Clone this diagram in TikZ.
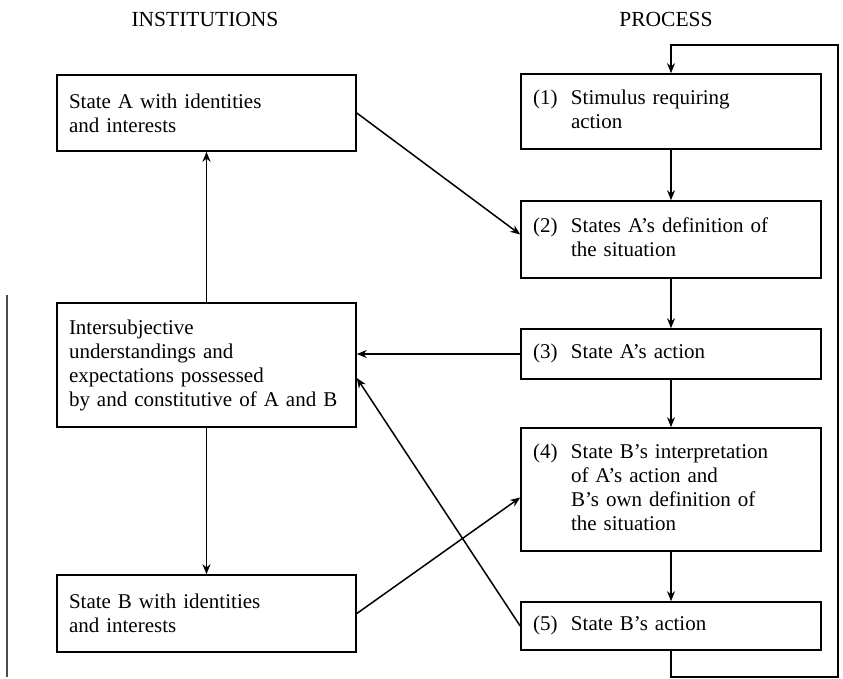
\documentclass[tikz,border=0pt]{standalone}
\usepackage{fontspec}
\setmainfont{Liberation Serif}
\usetikzlibrary{arrows.meta,calc}

\tikzset{
  box/.style={draw, line width=1.6pt, inner xsep=12pt, inner ysep=0pt, align=left,
              font=\fontsize{21}{24}\selectfont},
  lbox/.style={box, text width=275pt},
  rbox/.style={box, text width=276pt},
  flow/.style={line width=1.5pt, -{Stealth[length=10pt,width=8pt]}},
  head/.style={font=\fontsize{21.5}{24}\selectfont}
}
\newcommand{\steplabel}[2]{\begin{tabular}{@{}p{30pt}@{\hspace{8pt}}l@{}}#1&#2\end{tabular}}

\begin{document}
\begin{tikzpicture}[x=1pt, y=-1pt]
        \useasboundingbox (0,0) rectangle (843,679);

        % --- Titoli delle colonne ---
        \node[head] (inst) at (205,19) {INSTITUTIONS};
        \node[head] (proc) at (666,19) {PROCESS};

        % --- Colonna di sinistra: istituzioni ---
        \node[lbox, minimum height=76pt] (stateA) at (206.5,113) {State A with identities\\and interests};
        \node[lbox, minimum height=124pt] (inter) at (206.5,365)
            {Intersubjective\\understandings and\\expectations possessed\\by and constitutive of A and B};
        \node[lbox, minimum height=77pt] (stateB) at (206.5,613.5) {State B with identities\\and interests};

        % --- Colonna di destra: processo ---
        \node[rbox, minimum height=75pt] (s1) at (671,111.5) {\steplabel{(1)}{Stimulus requiring\\ & action}};
        \node[rbox, minimum height=77pt] (s2) at (671,239.5) {\steplabel{(2)}{States A's definition of\\ & the situation}};
        \node[rbox, minimum height=50pt] (s3) at (671,354) {\steplabel{(3)}{State A's action}};
        \node[rbox, minimum height=123pt] (s4) at (671,489.5)
            {\steplabel{(4)}{State B's interpretation\\ & of A's action and\\ & B's own definition of\\ & the situation}};
        \node[rbox, minimum height=48pt] (s5) at (671,626) {\steplabel{(5)}{State B's action}};

        % Punti del ritorno da (5) a (1)
        \coordinate (loopA) at (671,677);
        \coordinate (loopB) at (838,677);
        \coordinate (loopC) at (838,45);
        \coordinate (loopD) at (671,45);
        % Punti di arrivo sulle scatole
        \coordinate (interB) at ($(inter.east)+(0,13)$);
        \coordinate (s4in) at ($(s4.west)+(0,8)$);
        \coordinate (s2in) at ($(s2.west)+(0,-5)$);

        % --- Frecce verticali del processo ---
        \draw[flow] (s1) -- (s2);
        \draw[flow] (s2) -- (s3);
        \draw[flow] (s3) -- (s4);
        \draw[flow] (s4) -- (s5);
        \draw[flow] (s5.south) -- (loopA) -- (loopB) -- (loopC) -- (loopD) -- (s1.north);

        % --- Frecce tra le colonne ---
        \draw[flow] (stateA.east) -- (s2in);
        \draw[flow] (s3.west) -- (s3.west -| inter.east);
        \draw[flow] (s5.west) -- (interB);
        \draw[flow] (stateB.east) -- (s4in);

        % --- Frecce verticali a sinistra ---
        \draw[flow] (inter) -- (stateA);
        \draw[flow] (inter) -- (stateB);

        % Linea sul bordo sinistro
        \draw[line width=1.2pt, black!70] (7,295) -- (7,677);
    \end{tikzpicture}
\end{document}
